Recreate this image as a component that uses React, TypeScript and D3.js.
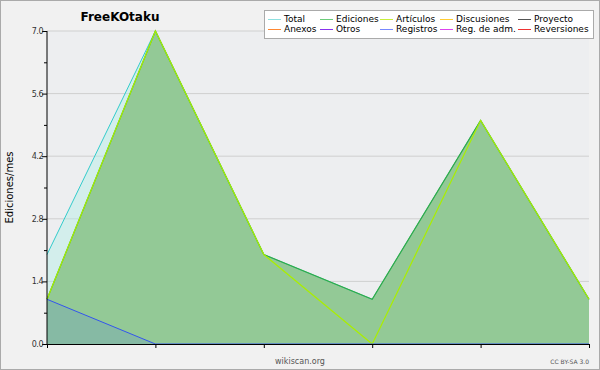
import React from "react";
import * as d3 from "d3";

// monthly values
const months = [0, 1, 2, 3, 4, 5];
const total = [2, 7, 2, 1, 5, 1];
const ediciones = [1, 7, 2, 1, 5, 1];
const articulos = [1, 7, 2, 0, 5, 1];
const registros = [1, 0, 0, 0, 0, 0];
const yTicks = [0, 1.4, 2.8, 4.2, 5.6, 7.0];
const yMinor = [0.7, 2.1, 3.5, 4.9, 6.3];

const legendItems = [
  { name: "Total", color: "#8ee0e0" },
  { name: "Ediciones", color: "#6ccc7a" },
  { name: "Artículos", color: "#c8ee3c" },
  { name: "Discusiones", color: "#ffcc33" },
  { name: "Proyecto", color: "#555555" },
  { name: "Anexos", color: "#ff8833" },
  { name: "Otros", color: "#8833ee" },
  { name: "Registros", color: "#7788ff" },
  { name: "Reg. de adm.", color: "#dd44ee" },
  { name: "Reversiones", color: "#ee3333" },
];
const legendCols = [268, 320, 380, 440, 518];

const W = 600;
const H = 370;
const margin = { top: 31, right: 11, bottom: 26, left: 47 };

const App = () => {
  const x = d3
    .scaleLinear()
    .domain([0, months.length - 1])
    .range([margin.left, W - margin.right]);
  const y = d3
    .scaleLinear()
    .domain([0, 7])
    .range([H - margin.bottom, margin.top]);

  const area = d3
    .area<number>()
    .x((d, i) => x(months[i]))
    .y0(y(0))
    .y1((d) => y(d));
  const line = d3
    .line<number>()
    .x((d, i) => x(months[i]))
    .y((d) => y(d));

  const font = "DejaVu Sans, sans-serif";

  return (
    <svg width={W} height={H} style={{ position: "absolute", left: 0, top: 0 }}>
      <rect x={0.5} y={0.5} width={W - 1} height={H - 1} fill="#f1f1f1" stroke="#aaaaaa" />
      <rect
        x={margin.left}
        y={margin.top}
        width={W - margin.left - margin.right}
        height={H - margin.top - margin.bottom}
        fill="#edeef0"
      />
      {yTicks.slice(1).map((t) => (
        <line key={t} x1={margin.left} x2={W - margin.right} y1={y(t)} y2={y(t)} stroke="#cfcfcf" />
      ))}

      <path d={area(total) || ""} fill="#b4eee6" fillOpacity={0.45} />
      <path d={area(ediciones) || ""} fill="#93c996" />
      <path d={area(registros) || ""} fill="#6f9ec0" fillOpacity={0.35} />

      <path d={line(total) || ""} fill="none" stroke="#33cccc" strokeWidth={1} />
      <path d={line(ediciones) || ""} fill="none" stroke="#33aa44" strokeWidth={1.2} />
      <path d={line(articulos) || ""} fill="none" stroke="#aaee00" strokeWidth={1.2} />
      <path d={line(registros) || ""} fill="none" stroke="#3355ee" strokeWidth={1} />

      {/* axes */}
      <line x1={margin.left} x2={margin.left} y1={margin.top} y2={y(0)} stroke="#000" />
      <line x1={margin.left} x2={W - margin.right + 1} y1={y(0) + 0.5} y2={y(0) + 0.5} stroke="#000" />
      {yTicks.map((t) => (
        <g key={t}>
          <line x1={margin.left - 5} x2={margin.left} y1={y(t) + 0.5} y2={y(t) + 0.5} stroke="#000" />
          <text
            x={margin.left - 4}
            y={y(t) + 3}
            textAnchor="end"
            fontFamily={font}
            fontSize={8}
            fill="#333"
            letterSpacing={-0.5}
          >
            {t.toFixed(1)}
          </text>
        </g>
      ))}
      {yMinor.map((t) => (
        <line key={t} x1={margin.left - 3} x2={margin.left} y1={y(t) + 0.5} y2={y(t) + 0.5} stroke="#000" />
      ))}
      {months.map((m) => (
        <line key={m} x1={x(m) + 0.5} x2={x(m) + 0.5} y1={y(0)} y2={y(0) + 4} stroke="#000" />
      ))}

      <text
        transform={`translate(13,${(margin.top + y(0)) / 2}) rotate(-90)`}
        textAnchor="middle"
        fontFamily={font}
        fontSize={10}
        fill="#000"
      >
        Ediciones/mes
      </text>
      <text x={120} y={21} textAnchor="middle" fontFamily={font} fontSize={12} fontWeight="bold" fill="#000">
        FreeKOtaku
      </text>
      <text x={300} y={364} textAnchor="middle" fontFamily={font} fontSize={8} fill="#555">
        wikiscan.org
      </text>
      <text x={589} y={364} textAnchor="end" fontFamily={font} fontSize={6} fill="#555">
        CC BY-SA 3.0
      </text>

      {/* legend */}
      <rect x={264.5} y={10.5} width={329} height={28} fill="#ffffff" stroke="#aaaaaa" />
      {legendItems.map((d, i) => {
        const cx = legendCols[i % 5];
        const cy = i < 5 ? 19 : 29;
        return (
          <g key={d.name}>
            <line x1={cx} x2={cx + 13} y1={cy + 0.5} y2={cy + 0.5} stroke={d.color} />
            <text x={cx + 16} y={cy + 3} fontFamily={font} fontSize={9} fill="#000">
              {d.name}
            </text>
          </g>
        );
      })}
    </svg>
  );
};

export default App;
